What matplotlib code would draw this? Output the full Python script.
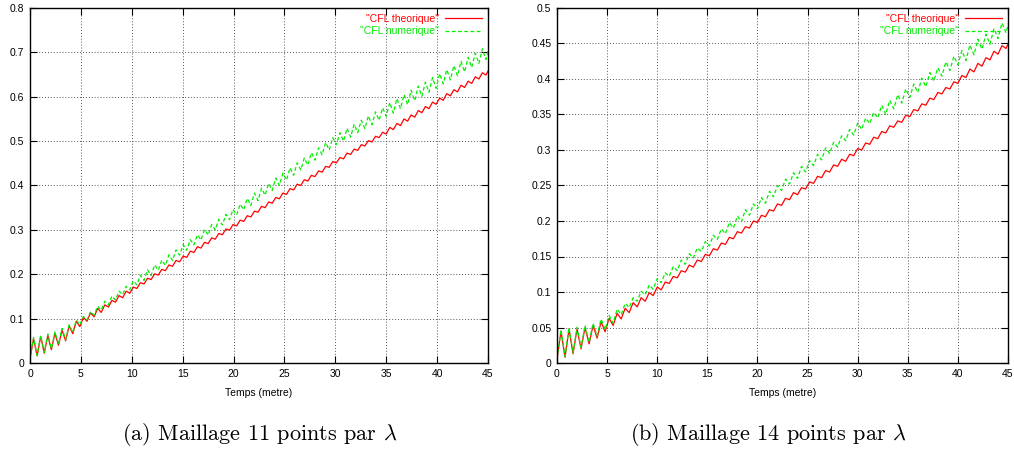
import matplotlib
matplotlib.use("Agg")
import matplotlib.pyplot as plt
import numpy as np

# values, in thousandths; one sample every half oscillation
step_a = 0.35
red_a = [10, 55, 16, 60, 22, 62, 30, 67, 40, 74, 50, 84, 66, 94, 82,
         103, 94, 113, 104, 123, 114, 131, 126, 141, 137, 152, 147, 162, 157,
         171, 168, 181, 178, 191, 188, 201, 198, 211, 208, 221, 218,
         231, 228, 241, 238, 252, 249, 262, 259, 272, 269, 282, 279, 292, 289,
         302, 299, 312, 309, 322, 319, 332, 329, 342, 340, 353, 350, 363, 360,
         373, 370, 383, 380, 393, 390, 403, 400, 413, 410, 423, 420, 433, 430,
         443, 441, 454, 451, 463, 460, 473, 470, 482, 479, 492, 489, 501, 498,
         511, 508, 520, 516, 531, 526, 540, 535, 550, 545, 559, 554, 569, 564,
         578, 573, 588, 583, 597, 592, 607, 602, 616, 611, 626, 621, 635, 630,
         645, 640, 654, 649, 664]
green_a = [10, 58, 17, 62, 24, 65, 32, 70, 42, 78, 53, 86, 69, 97, 86,
           105, 97, 116, 108, 128, 119, 139, 131, 151, 142, 162, 154, 173, 165,
           185, 176, 198, 186, 210, 197, 221, 209, 232, 220, 244, 231,
           255, 243, 267, 254, 278, 266, 289, 277, 301, 288, 312, 300, 324, 311,
           335, 323, 346, 334, 358, 345, 371, 355, 383, 366, 394, 378, 405, 389,
           417, 400, 428, 412, 440, 423, 451, 435, 462, 446, 474, 457, 485, 469,
           497, 480, 508, 492, 519, 500, 529, 509, 538, 519, 547, 528, 557, 537,
           566, 547, 575, 556, 587, 563, 596, 573, 605, 582, 615, 591, 624, 601,
           633, 610, 643, 619, 652, 629, 661, 638, 670, 647, 680, 656, 689, 666,
           698, 675, 708, 684, 717]

step_b = 0.4
red_b = [5, 45, 8, 48, 13, 48, 20, 50, 27, 53, 35, 58, 44, 63, 53, 70, 62,
         77, 71, 85, 79, 92, 87, 99, 95, 107, 103,
         114, 112, 122, 120, 130, 128, 138, 135, 145, 143, 153, 151, 161, 159,
         169, 167, 177, 175, 185, 183, 192, 190, 200, 198, 208, 206, 216, 214,
         224, 222, 232, 230, 240, 237,
         247, 245, 255, 253, 263, 261, 271, 269, 279, 277, 287, 284, 294, 292,
         302, 300, 310, 308, 318, 316, 326, 324, 334, 332, 341, 339, 349, 347,
         357, 355, 365, 363, 373, 371, 381, 379, 388, 386, 396, 394,
         405, 402, 414, 410, 422, 418, 430, 427, 439, 435, 447, 443, 455]
green_b = [5, 47, 9, 50, 14, 50, 22, 53, 29, 56, 38, 62, 47, 67, 56, 76, 68,
           84, 78, 92, 87, 101, 96, 110, 104, 119, 113, 127, 122, 136, 130,
           145, 139, 154, 148, 162, 157, 171, 165, 180, 174,
           189, 182, 198, 190, 207, 199, 216, 208, 224, 217, 233, 225, 242, 234,
           250, 243, 259, 252, 268, 260, 277, 269, 285, 278, 294, 286, 303, 295,
           311, 304, 320, 313, 329, 321, 338, 329, 345, 337, 353, 345,
           363, 350, 370, 358, 378, 366, 386, 374, 393, 381, 401, 389, 409, 397,
           416, 404, 424, 412, 432, 420,
           440, 426, 448, 434, 456, 442, 463, 449, 471, 457, 479, 465, 487]

xticks = [0, 5, 10, 15, 20, 25, 30, 35, 40, 45]
yticks_a = [0, 0.1, 0.2, 0.3, 0.4, 0.5, 0.6, 0.7, 0.8]
ylabels_a = ["0", "0.1", "0.2", "0.3", "0.4", "0.5", "0.6", "0.7", "0.8"]
yticks_b = [0, 0.05, 0.1, 0.15, 0.2, 0.25, 0.3, 0.35, 0.4, 0.45, 0.5]
ylabels_b = ["0", "0.05", "0.1", "0.15", "0.2", "0.25", "0.3", "0.35", "0.4", "0.45", "0.5"]
captions = ["(a) Maillage 11 points par $\\lambda$", "(b) Maillage 14 points par $\\lambda$"]

plt.rcParams["font.family"] = ["Liberation Sans", "DejaVu Sans"]
plt.rcParams["mathtext.fontset"] = "cm"

fig = plt.figure(figsize=(10.14, 4.49), dpi=100)
ax1 = fig.add_axes([30 / 1014, 1 - 363 / 449, 458 / 1014, 355 / 449])
ax2 = fig.add_axes([557 / 1014, 1 - 363 / 449, 451 / 1014, 355 / 449])

panels = [(ax1, step_a, red_a, green_a, yticks_a, ylabels_a, 0.8),
          (ax2, step_b, red_b, green_b, yticks_b, ylabels_b, 0.5)]

for ax, step, red, green, yt, yl, ymax in panels:
    x_red = np.arange(len(red)) * step
    x_green = np.arange(len(green)) * step
    ax.plot(x_red, np.array(red) / 1000, color="#ff0000", lw=0.9, label='"CFL theorique"')
    ax.plot(x_green, np.array(green) / 1000, color="#00ee00", lw=0.9,
            linestyle=(0, (3, 2)), label='"CFL numerique"')
    ax.set_xlim(0, 45)
    ax.set_ylim(0, ymax)
    ax.set_xticks(xticks)
    ax.set_yticks(yt)
    ax.set_yticklabels(yl)
    ax.grid(True, color="#555555", linestyle=(0, (1, 2)), linewidth=0.7)
    ax.tick_params(direction="in", top=True, right=True, length=5, width=0.8,
                   labelsize=7.5, pad=4)
    for s in ax.spines.values():
        s.set_linewidth(1.0)
    ax.set_xlabel("Temps (metre)", fontsize=7.5, labelpad=7)
    ax.legend(loc="upper right", frameon=False, markerfirst=False, fontsize=7.5,
              handlelength=3.6, handletextpad=0.6, labelspacing=0.25,
              borderaxespad=0.15, labelcolor="linecolor")

fig.text(260 / 1014, 1 - 435 / 449, captions[0], fontsize=16, family="cmr10",
         ha="center", va="center")
fig.text(768 / 1014, 1 - 435 / 449, captions[1], fontsize=16, family="cmr10",
         ha="center", va="center")

fig.savefig("out.png", dpi=100)
